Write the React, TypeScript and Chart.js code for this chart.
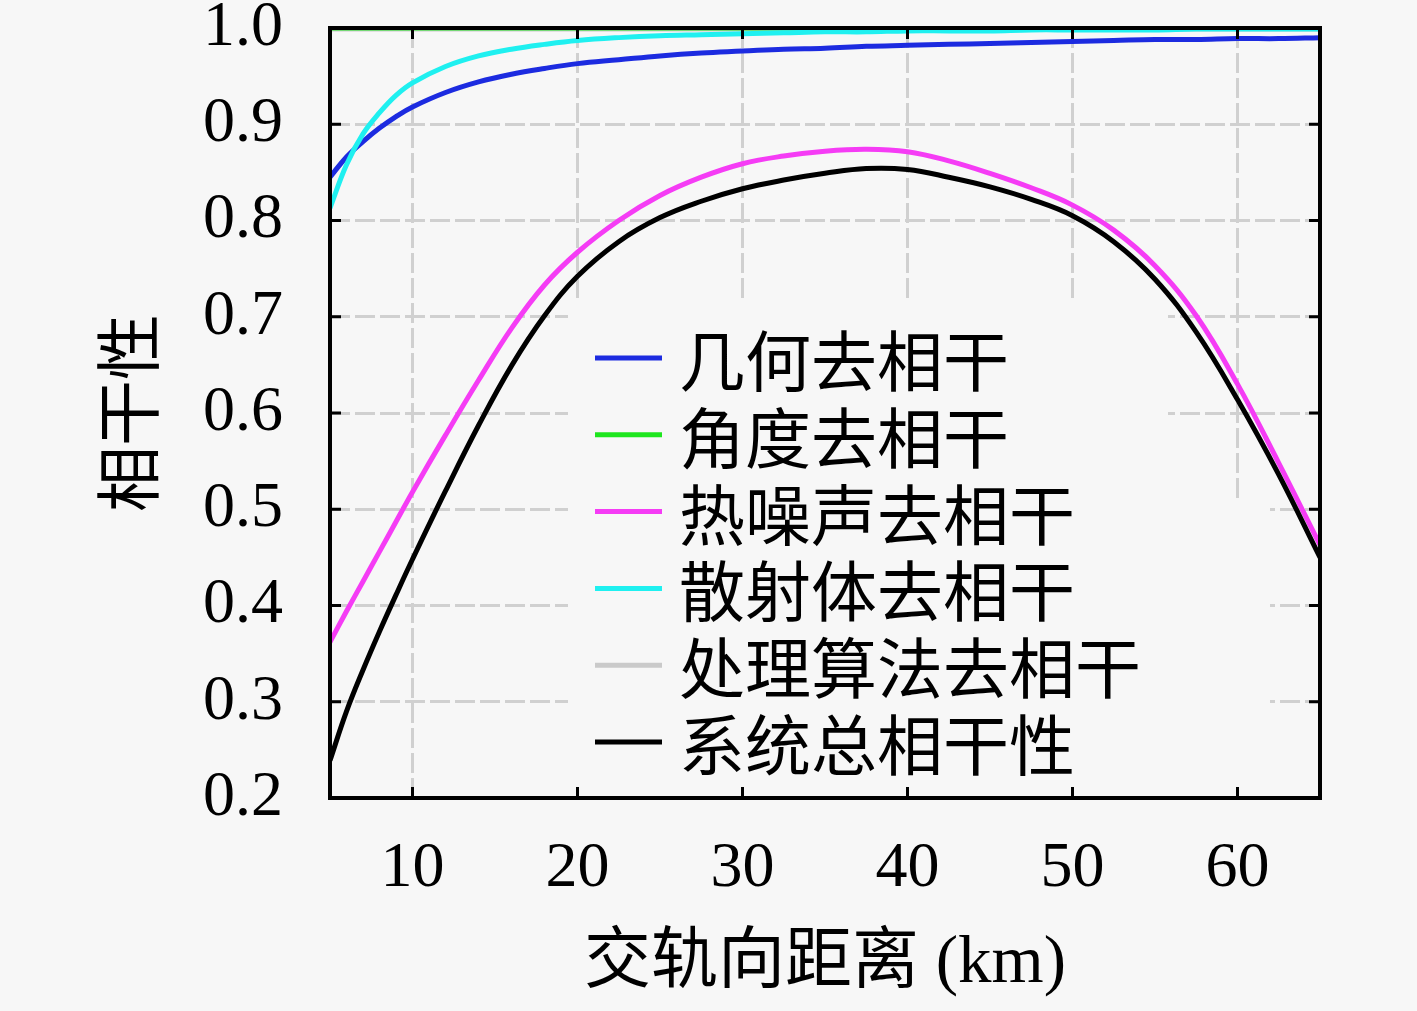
import { useEffect, useRef } from "react";
import { Chart, registerables } from "chart.js";

Chart.register(...registerables);

// cross-track distance (km)
const distanceKm = [
  5, 6, 7, 8, 9, 10, 12, 14, 16, 18, 20, 22.5, 25, 27.5, 30, 32.5, 35, 37.5,
  40, 42.5, 45, 47.5, 50, 52.5, 55, 57.5, 60, 62.5, 65,
];

const geometric = [
  0.845, 0.866, 0.882, 0.896, 0.908, 0.918, 0.933, 0.944, 0.952, 0.958, 0.963,
  0.967, 0.971, 0.974, 0.976, 0.978, 0.979, 0.981, 0.982, 0.983, 0.984, 0.985,
  0.986, 0.987, 0.988, 0.988, 0.989, 0.989, 0.99,
];

const angular = [
  1, 1, 1, 1, 1, 1, 1, 1, 1, 1, 1, 1, 1, 1, 1, 1, 1, 1, 1, 1, 1, 1, 1, 1, 1,
  1, 1, 1, 1,
];

const thermal = [
  0.362, 0.394, 0.425, 0.456, 0.487, 0.518, 0.577, 0.634, 0.688, 0.733, 0.767,
  0.8, 0.826, 0.845, 0.859, 0.867, 0.872, 0.874, 0.8715, 0.862, 0.849, 0.834,
  0.816, 0.79, 0.753, 0.701, 0.63, 0.548, 0.463,
];

const volume = [
  0.813, 0.858, 0.89, 0.912, 0.93, 0.943, 0.96, 0.971, 0.978, 0.983, 0.987,
  0.99, 0.992, 0.993, 0.994, 0.995, 0.996, 0.996, 0.997, 0.997, 0.997, 0.998,
  0.998, 0.998, 0.998, 0.999, 0.999, 0.999, 0.999,
];

const processing = [
  0.999, 0.999, 0.999, 0.999, 0.999, 0.999, 0.999, 0.999, 0.999, 0.999, 0.999,
  0.999, 0.999, 0.999, 0.999, 0.999, 0.999, 0.999, 0.999, 0.999, 0.999, 0.999,
  0.999, 0.999, 0.999, 0.999, 0.999, 0.999, 0.999,
];

const total = [
  0.239, 0.29, 0.333, 0.373, 0.411, 0.448, 0.519, 0.587, 0.649, 0.701, 0.742,
  0.778, 0.803, 0.82, 0.833, 0.842, 0.849, 0.854, 0.853, 0.845, 0.835, 0.822,
  0.805, 0.778, 0.739, 0.684, 0.614, 0.536, 0.45,
];

const xTicks = [10, 20, 30, 40, 50, 60];

const BG = "#f7f7f7";
const CJK = '"Noto Sans CJK SC"';
const SERIF = '"Liberation Serif"';

const series = [
  { label: "几何去相干", values: geometric, color: "#1c2be0", order: 4 },
  { label: "角度去相干", values: angular, color: "#1ee61e", order: 5 },
  { label: "热噪声去相干", values: thermal, color: "#f53cf5", order: 2 },
  { label: "散射体去相干", values: volume, color: "#1ff0f0", order: 3 },
  { label: "处理算法去相干", values: processing, color: "#cacaca", order: 6 },
  { label: "系统总相干性", values: total, color: "#000000", order: 1 },
];

// blanks the grid behind the legend block
const legendMask = {
  id: "legendMask",
  beforeDatasetsDraw(chart) {
    const { ctx, chartArea } = chart;
    const b = chartArea.bottom - 10;
    ctx.save();
    ctx.fillStyle = BG;
    ctx.fillRect(568, 303, 600, b - 303);
    ctx.fillRect(1168, 500, 102, b - 500);
    ctx.restore();
  },
};

// box around the plot with inward ticks
const frame = {
  id: "frame",
  afterDatasetsDraw(chart) {
    const { ctx, chartArea, scales } = chart;
    const { left, right, top, bottom } = chartArea;
    ctx.save();
    ctx.strokeStyle = "#000";
    ctx.lineWidth = 4;
    ctx.strokeRect(left, top, right - left, bottom - top);
    const len = 11;
    ctx.lineWidth = 3;
    ctx.beginPath();
    scales.x.ticks.forEach((t) => {
      const px = scales.x.getPixelForValue(t.value);
      ctx.moveTo(px, bottom);
      ctx.lineTo(px, bottom - len);
      ctx.moveTo(px, top);
      ctx.lineTo(px, top + len);
    });
    scales.y.ticks.forEach((t) => {
      const py = scales.y.getPixelForValue(t.value);
      ctx.moveTo(left, py);
      ctx.lineTo(left + len, py);
      ctx.moveTo(right, py);
      ctx.lineTo(right - len, py);
    });
    ctx.stroke();
    ctx.restore();
  },
};

const legendBlock = {
  id: "legendBlock",
  afterDatasetsDraw(chart) {
    const { ctx } = chart;
    ctx.save();
    ctx.font = `66px ${CJK}`;
    ctx.textBaseline = "middle";
    ctx.textAlign = "left";
    chart.data.datasets.forEach((ds, i) => {
      const y = 358 + i * 76.8;
      ctx.strokeStyle = ds.borderColor;
      ctx.lineWidth = 5;
      ctx.beginPath();
      ctx.moveTo(595, y);
      ctx.lineTo(662, y);
      ctx.stroke();
      ctx.fillStyle = "#000";
      ctx.fillText(ds.label, 679, y + 3);
    });
    ctx.restore();
  },
};

const CoherenceChart = () => {
  const chartRef = useRef(null);
  const chartInstance = useRef(null);

  useEffect(() => {
    if (chartInstance.current) {
      chartInstance.current.destroy();
    }
    if (!chartRef.current) return;

    chartInstance.current = new Chart(chartRef.current, {
      type: "line",
      data: {
        datasets: series.map((s) => ({
          label: s.label,
          data: distanceKm.map((d, i) => ({ x: d, y: s.values[i] })),
          borderColor: s.color,
          backgroundColor: s.color,
          borderWidth: 5,
          pointRadius: 0,
          tension: 0.4,
          fill: false,
          order: s.order,
        })),
      },
      options: {
        responsive: true,
        maintainAspectRatio: false,
        animation: false,
        layout: { padding: { left: 0, right: 97, top: 28, bottom: 0 } },
        plugins: {
          legend: { display: false },
          tooltip: { enabled: false },
        },
        scales: {
          x: {
            type: "linear",
            min: 5,
            max: 65,
            afterBuildTicks: (scale) => {
              scale.ticks = xTicks.map((v) => ({ value: v }));
            },
            afterFit: (scale) => {
              scale.height = 213;
              scale.paddingLeft = 0;
              scale.paddingRight = 0;
            },
            grid: { color: "#d0d0d0", lineWidth: 3, drawTicks: false },
            border: { display: false, dash: [20, 5] },
            ticks: {
              color: "#000",
              padding: 33,
              maxRotation: 0,
              font: { family: SERIF, size: 64 },
            },
            title: {
              display: true,
              text: "交轨向距离 (km)",
              color: "#000",
              padding: { bottom: 13 },
              font: { family: `${SERIF}, ${CJK}`, size: 67, lineHeight: 1 },
            },
          },
          y: {
            min: 0.2,
            max: 1.0,
            afterFit: (scale) => {
              scale.width = 330;
              scale.paddingTop = 0;
              scale.paddingBottom = 0;
            },
            grid: { color: "#d0d0d0", lineWidth: 3, drawTicks: false },
            border: { display: false, dash: [20, 5] },
            ticks: {
              stepSize: 0.1,
              color: "#000",
              padding: 47,
              font: { family: SERIF, size: 64 },
              callback: (v) => Number(v).toFixed(1),
            },
            title: {
              display: true,
              text: "相干性",
              color: "#000",
              padding: { top: 95 },
              font: { family: CJK, size: 66, lineHeight: 1 },
            },
          },
        },
      },
      plugins: [legendMask, frame, legendBlock],
    });

    return () => {
      if (chartInstance.current) {
        chartInstance.current.destroy();
        chartInstance.current = null;
      }
    };
  }, []);

  return (
    <div
      style={{
        position: "fixed",
        left: 0,
        top: 0,
        width: "1417px",
        height: "1011px",
        background: BG,
      }}
    >
      <canvas ref={chartRef} />
    </div>
  );
};

export default function App() {
  return <CoherenceChart />;
}
